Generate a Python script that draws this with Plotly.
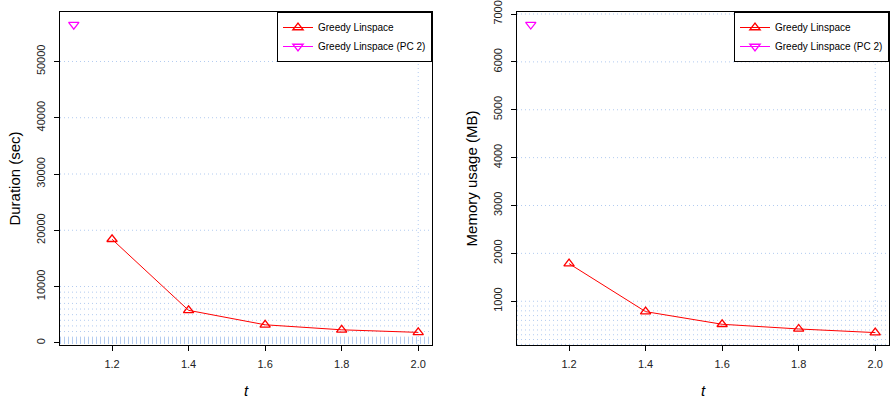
import plotly.graph_objects as go

# ---- data ----
t_vals = [1.2, 1.4, 1.6, 1.8, 2.0]
duration_greedy = [18400, 5770, 3200, 2310, 1850]
memory_greedy = [1786, 783, 519, 421, 345]
t_pc2 = [1.1]
duration_pc2 = [56550]
memory_pc2 = [6780]

x_ticks = [1.2, 1.4, 1.6, 1.8, 2.0]
dur_ticks = [0, 10000, 20000, 30000, 40000, 50000]
mem_ticks = [1000, 2000, 3000, 4000, 5000, 6000, 7000]

x_range = [1.064, 2.036]
dur_range = [-392, 58792]
mem_range = [86, 7042]

RED = "#ff0000"
MAG = "#ff00ff"
GRID = "#b2cbf0"
FONT = "Liberation Sans, Arial, sans-serif"

fig = go.Figure()

def add_series(x, y, name, color, symbol, xa, ya, leg):
    fig.add_trace(go.Scatter(x=x, y=y, mode="lines+markers", name=name,
                             xaxis=xa, yaxis=ya,
                             line=dict(color=color, width=1),
                             marker=dict(symbol=symbol, size=9, color=color, line=dict(width=1.3)),
                             legend=leg))

add_series(t_vals, duration_greedy, "Greedy Linspace", RED, "triangle-up-open", "x", "y", "legend")
add_series(t_pc2, duration_pc2, "Greedy Linspace (PC 2)", MAG, "triangle-down-open", "x", "y", "legend")
add_series(t_vals, memory_greedy, "Greedy Linspace", RED, "triangle-up-open", "x2", "y2", "legend2")
add_series(t_pc2, memory_pc2, "Greedy Linspace (PC 2)", MAG, "triangle-down-open", "x2", "y2", "legend2")

# log-style grid levels (1..9 x 10^k)
grid_levels = [m * 10 ** k for k in range(0, 5) for m in range(1, 10)]
shapes = []
for xa, ya, yr in (("x", "y", dur_range), ("x2", "y2", mem_range)):
    for g in grid_levels:
        if yr[0] < g < yr[1]:
            shapes.append(dict(type="line", xref=f"{xa} domain", yref=ya, x0=0, x1=1, y0=g, y1=g,
                               line=dict(color=GRID, width=1, dash="1px,3px"), layer="below"))
        if x_range[0] < g < x_range[1]:
            shapes.append(dict(type="line", xref=xa, yref=f"{ya} domain", x0=g, x1=g, y0=0, y1=1,
                               line=dict(color=GRID, width=1, dash="1px,3px"), layer="below"))

axis_common = dict(showline=True, linecolor="black", linewidth=1, mirror=True,
                   ticks="outside", ticklen=5, tickcolor="black", showgrid=False,
                   zeroline=False, automargin=False, tickfont=dict(size=11, color="#222"))

xdom1 = [60 / 890, 432 / 890]
xdom2 = [517 / 890, 889 / 890]
ydom = [56 / 401, 389 / 401]

legend_common = dict(xanchor="right", yanchor="top", bordercolor="black", borderwidth=1,
                     bgcolor="white", font=dict(size=10), tracegroupgap=0, itemwidth=30)

fig.update_layout(
    width=890, height=401,
    margin=dict(l=0, r=0, t=0, b=0),
    paper_bgcolor="white", plot_bgcolor="white",
    font=dict(family=FONT, color="black"),
    shapes=shapes,
    xaxis=dict(domain=xdom1, anchor="y", range=x_range, tickvals=x_ticks, tickformat=".1f",
               ticklabelstandoff=4,
               title=dict(text="<i>t</i>", font=dict(size=15), standoff=16), **axis_common),
    yaxis=dict(domain=ydom, anchor="x", range=dur_range, tickvals=dur_ticks, tickformat="d",
               tickangle=-90, ticklabelstandoff=5,
               title=dict(text="Duration (sec)", font=dict(size=15), standoff=10), **axis_common),
    xaxis2=dict(domain=xdom2, anchor="y2", range=x_range, tickvals=x_ticks, tickformat=".1f",
                ticklabelstandoff=4,
                title=dict(text="<i>t</i>", font=dict(size=15), standoff=16), **axis_common),
    yaxis2=dict(domain=ydom, anchor="x2", range=mem_range, tickvals=mem_ticks, tickformat="d",
                tickangle=-90, ticklabelstandoff=5,
                title=dict(text="Memory usage (MB)", font=dict(size=15), standoff=10), **axis_common),
    legend=dict(x=xdom1[1], y=ydom[1], **legend_common),
    legend2=dict(x=xdom2[1], y=ydom[1], **legend_common),
    showlegend=True,
)

fig.write_html("out.html", config={"displayModeBar": False},
               post_script="document.body.style.margin='0px';")
